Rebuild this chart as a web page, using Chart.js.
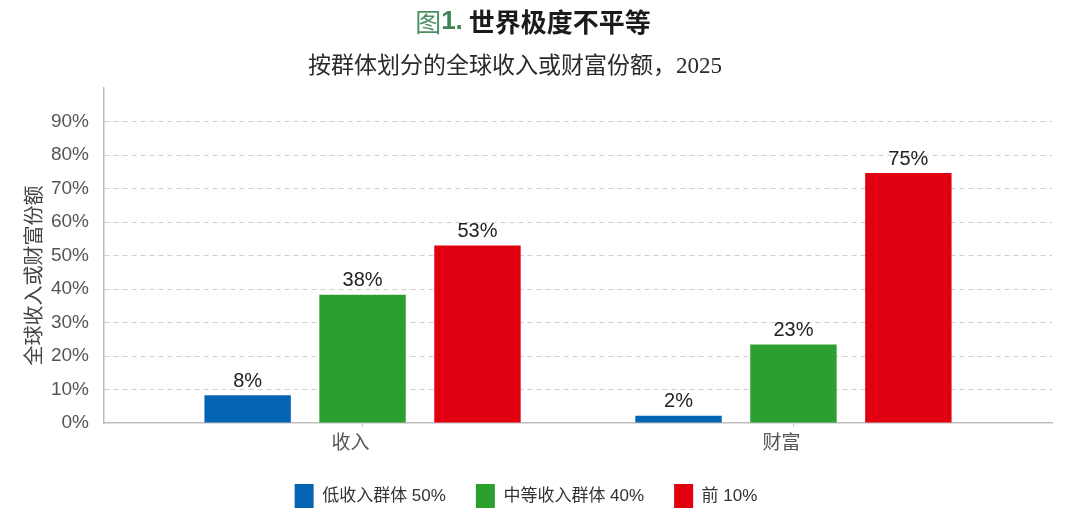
<!DOCTYPE html>
<html>
<head>
<meta charset="utf-8">
<script src="https://cdn.jsdelivr.net/npm/chart.js@4.4.1/dist/chart.umd.min.js"></script>
<style>
  html, body { margin: 0; padding: 0; background: #fff; }
  #wrap { width: 1080px; height: 518px; }
</style>
</head>
<body>
<div id="wrap"><canvas id="chart"></canvas></div>
<script>
// categories and series (percent)
const categories = ["收入", "财富"];
const seriesNames = ["低收入群体 50%", "中等收入群体 40%", "前 10%"];
const bottom50 = [8.3, 2.2];
const middle40 = [38.3, 23.4];
const top10 = [53.0, 74.6];
const yTicks = [0, 10, 20, 30, 40, 50, 60, 70, 80, 90];

const colors = ["#0564b4", "#2ca02f", "#e1000f"];

const title = "世界极度不平等";
const subtitle = "按群体划分的全球收入或财富份额，2025";
const yTitle = "全球收入或财富份额";

const toPoints = (arr) => arr.map((v, i) => ({ x: i, y: v }));

const sans = '"Liberation Sans", "Noto Sans CJK SC", sans-serif';
const cjk = '"Noto Sans CJK SC", sans-serif';

// title + subtitle on the canvas
const headerPlugin = {
  id: "header",
  afterDraw(chart) {
    const ctx = chart.ctx;
    ctx.save();
    ctx.textBaseline = "middle";
    ctx.textAlign = "left";
    const partA = "图";
    const partB = "1.";
    const fA = "400 26px " + cjk;
    const fB = "700 26px " + sans;
    const fC = "700 26px " + cjk;
    ctx.font = fA; const wA = ctx.measureText(partA).width;
    ctx.font = fB; const wB = ctx.measureText(partB).width + 6;
    ctx.font = fC; const wC = ctx.measureText(title).width;
    let x = 533 - (wA + wB + wC) / 2;
    const y = 22;
    ctx.fillStyle = "#4a9063";
    ctx.font = fA; ctx.fillText(partA, x, y); x += wA;
    ctx.fillStyle = "#3d8557";
    ctx.font = fB; ctx.fillText(partB, x, y); x += wB;
    ctx.fillStyle = "#1b1b1b";
    ctx.font = fC; ctx.fillText(title, x, y);

    ctx.font = '400 23px "Liberation Serif", "Noto Sans CJK SC", serif';
    ctx.fillStyle = "#2a2a2a";
    ctx.textAlign = "center";
    ctx.fillText(subtitle, 515, 67);
    ctx.restore();
  }
};

// value labels over the bars
const valueLabels = {
  id: "valueLabels",
  afterDatasetsDraw(chart) {
    const ctx = chart.ctx;
    ctx.save();
    ctx.font = "20px " + sans;
    ctx.fillStyle = "#222";
    ctx.textAlign = "center";
    ctx.textBaseline = "bottom";
    chart.data.datasets.forEach((ds, di) => {
      const meta = chart.getDatasetMeta(di);
      meta.data.forEach((bar, i) => {
        ctx.fillText(Math.round(ds.data[i].y) + "%", bar.x, bar.y - 4);
      });
    });
    ctx.restore();
  }
};

const ctx = document.getElementById("chart").getContext("2d");
const myChart = new Chart(ctx, {
  type: "bar",
  data: {
    datasets: [
      { label: seriesNames[0], data: toPoints(bottom50), backgroundColor: colors[0] },
      { label: seriesNames[1], data: toPoints(middle40), backgroundColor: colors[1] },
      { label: seriesNames[2], data: toPoints(top10), backgroundColor: colors[2] },
    ],
  },
  options: {
    responsive: true,
    maintainAspectRatio: false,
    animation: false,
    categoryPercentage: 0.8,
    barPercentage: 0.752,
    layout: { padding: { top: 88, right: 28, left: 0, bottom: 0 } },
    plugins: {
      tooltip: { enabled: false },
      legend: {
        position: "bottom",
        labels: {
          boxWidth: 19,
          boxHeight: 24,
          padding: 30,
          color: "#333",
          font: { family: sans, size: 17 },
        },
      },
    },
    scales: {
      x: {
        type: "linear",
        offset: false,
        min: -0.6,
        max: 1.6,
        afterBuildTicks: (s) => {
          s.ticks = categories.map((c, i) => ({ value: i }));
        },
        afterFit: (s) => {
          s.height = s.chart.height - 423 - s.chart.legend.height;
        },
        ticks: {
          callback: (v) => categories[v],
          color: "#555",
          font: { family: cjk, size: 19 },
          padding: 3,
          labelOffset: -12,
          maxRotation: 0,
        },
        grid: {
          display: true,
          offset: false,
          drawOnChartArea: false,
          tickLength: 4,
          tickColor: "#c8c8c8",
        },
        border: { color: "#bdbdbd", width: 1.5 },
      },
      y: {
        min: 0,
        max: 100,
        afterBuildTicks: (s) => {
          s.ticks = yTicks.concat([100]).map((v) => ({ value: v }));
        },
        afterFit: (s) => { s.width = 104; },
        ticks: {
          callback: (v) => (v === 100 ? "" : v + "%"),
          color: "#555",
          font: { family: sans, size: 19 },
          padding: 15,
        },
        grid: {
          drawTicks: false,
          color: (c) => (c.tick && (c.tick.value === 0 || c.tick.value === 100) ? "rgba(0,0,0,0)" : "#cfcfcf"),
          lineWidth: 1,
        },
        border: { color: "#bdbdbd", width: 1.5, dash: [5, 4] },
        title: {
          display: true,
          // trailing ideographic space nudges the rotated title down a bit
          text: yTitle + "\u3000\u3000",
          color: "#444",
          font: { family: cjk, size: 20 },
          padding: { top: 21, bottom: 0 },
        },
      },
    },
  },
  plugins: [headerPlugin, valueLabels],
});
</script>
</body>
</html>
